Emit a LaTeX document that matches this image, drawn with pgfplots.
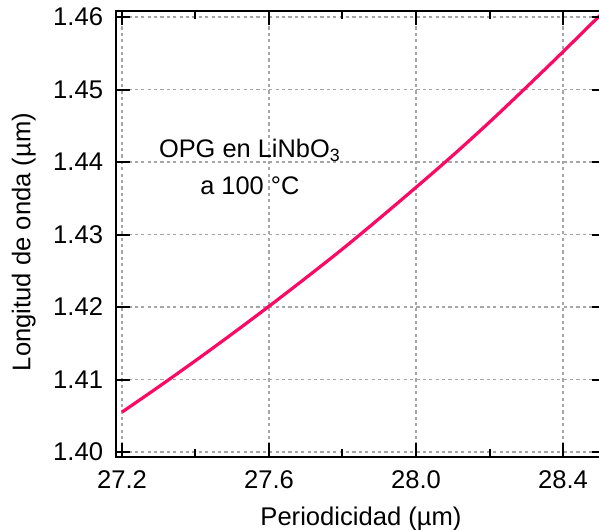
\documentclass[border=0pt]{standalone}
\usepackage{pgfplots}
\pgfplotsset{compat=1.18}
\usepackage{fontspec}
\setmainfont{Liberation Sans}
\definecolor{curvecol}{RGB}{250,10,100}
\begin{document}
\fontsize{12.8bp}{15bp}\selectfont
\begin{tikzpicture}
\useasboundingbox (-58bp,-36.5bp) rectangle (241.5bp,228.5bp);
% inner data area: grid and tuning curve
\begin{axis}[
  at={(3bp,2.5bp)}, anchor=south west,
  scale only axis, width=242bp, height=217.5bp,
  xmin=27.2, xmax=28.517, ymin=1.40, ymax=1.46,
  axis line style={draw=none},
  xtick={27.2,27.6,28.0,28.4}, ytick={1.40,1.41,1.42,1.43,1.44,1.45,1.46},
  major tick length=0pt, xticklabels={}, yticklabels={},
  grid=major,
  grid style={gray!70, line width=0.6bp, dash pattern=on 1.6bp off 1.6bp},
  clip=false,
]
\addplot[curvecol, line width=1.6bp, smooth] coordinates {
  (27.2,1.4055) (27.3,1.4090) (27.4,1.4126) (27.5,1.4163) (27.6,1.4201)
  (27.7,1.4240) (27.8,1.4280) (27.9,1.4322) (28.0,1.4365)
  (28.1,1.4409) (28.2,1.4455) (28.3,1.4503) (28.4,1.4552) (28.5,1.4602)
};
\node[align=center, font=\fontsize{12.7bp}{18.5bp}\selectfont] at (axis cs:27.548,1.4393)
  {OPG en LiNbO\textsubscript{3}\\a 100 °C};
\end{axis}
% frame with ticks and labels
\begin{axis}[
  at={(0,0)}, anchor=south west,
  scale only axis, width=245bp, height=223bp,
  xmin=27.1837, xmax=28.517, ymin=1.39931, ymax=1.46083,
  axis line style={line width=1bp},
  every tick/.style={black, line width=1bp},
  major tick length=7bp, minor tick length=4bp,
  xtick={27.2,27.6,28.0,28.4}, ytick={1.40,1.41,1.42,1.43,1.44,1.45,1.46},
  minor x tick num=1,
  tick pos=both, ticklabel pos=left, tick align=inside,
  /pgf/number format/assume math mode=true,
  xticklabel style={yshift=-2.5bp, /pgf/number format/.cd, fixed, fixed zerofill, precision=1},
  yticklabel style={xshift=-2bp, /pgf/number format/.cd, fixed, fixed zerofill, precision=2},
  xlabel={Periodicidad (µm)},
  ylabel={Longitud de onda (µm)},
  ylabel style={at={(ticklabel cs:0.482)}},
  clip=false,
]
\end{axis}
\end{tikzpicture}
\end{document}
